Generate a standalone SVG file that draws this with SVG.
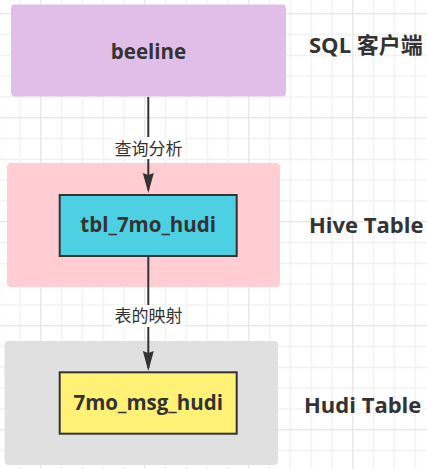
<svg xmlns="http://www.w3.org/2000/svg" width="427" height="469" viewBox="0 0 427 469">
  <defs>
    <pattern id="grid" patternUnits="userSpaceOnUse" x="40.2" y="13.2" width="104" height="104">
      <rect x="0" y="0" width="104" height="104" fill="#ffffff"/>
      <g fill="#efefef">
        <rect x="20.8" y="0" width="1.2" height="104"/>
        <rect x="41.6" y="0" width="1.2" height="104"/>
        <rect x="62.4" y="0" width="1.2" height="104"/>
        <rect x="83.2" y="0" width="1.2" height="104"/>
        <rect x="0" y="20.8" width="104" height="1.2"/>
        <rect x="0" y="41.6" width="104" height="1.2"/>
        <rect x="0" y="62.4" width="104" height="1.2"/>
        <rect x="0" y="83.2" width="104" height="1.2"/>
      </g>
      <g fill="#e3e3e3">
        <rect x="0" y="0" width="1.2" height="104"/>
        <rect x="0" y="0" width="104" height="1.2"/>
      </g>
    </pattern>
    <marker id="arrow" markerUnits="userSpaceOnUse" markerWidth="21" markerHeight="12" refX="17" refY="6" orient="auto" viewBox="0 0 21 12">
      <path d="M0,0.5 L20,6 L0,11.5 L2,6 Z" fill="#333333"/>
    </marker>
    <style>
      .node-text { font-family: "Open Sans", "Noto Sans", "Noto Sans CJK SC", sans-serif; font-weight: bold; font-size: 20.5px; fill: #333333; text-anchor: middle; }
      .side-text { font-family: "Open Sans", "Noto Sans CJK SC", sans-serif; font-weight: bold; font-size: 22px; fill: #333333; }
      .edge-text { font-family: "Noto Sans CJK SC", sans-serif; font-size: 17px; fill: #333333; text-anchor: middle; }
      .box { stroke: #333333; stroke-width: 2; }
      .edge { stroke: #333333; stroke-width: 2; fill: none; }
    </style>
  </defs>

  <rect x="0" y="0" width="427" height="469" fill="url(#grid)"/>

  <g id="hive-group">
    <rect x="7" y="163" width="273" height="124" rx="4" fill="#ffcdd2"/>
    <text class="side-text" x="309" y="233">Hive Table</text>
  </g>

  <g id="hudi-group">
    <rect x="4.5" y="341" width="273.5" height="124" rx="4" fill="#e0e0e0"/>
    <text class="side-text" x="304" y="413">Hudi Table</text>
  </g>

  <g id="beeline">
    <rect x="11" y="4.5" width="275" height="92" rx="4" fill="#e1bee7"/>
    <text class="node-text" x="148.5" y="59">beeline</text>
    <text class="side-text" x="309" y="53">SQL 客户端</text>
  </g>

  <g id="connectors">
    <path class="edge" d="M148.3,97 L148.3,190" marker-end="url(#arrow)"/>
    <path class="edge" d="M148.3,257 L148.3,368" marker-end="url(#arrow)"/>
    <rect x="112" y="137" width="73" height="22" fill="#ffffff"/>
    <text class="edge-text" x="148.5" y="154.5">查询分析</text>
    <rect x="112" y="305" width="73" height="22" fill="#ffffff"/>
    <text class="edge-text" x="148.5" y="322">表的映射</text>
  </g>

  <g id="tbl_7mo_hudi">
    <rect class="box" x="59.7" y="195" width="177" height="61" fill="#4dd0e1"/>
    <text class="node-text" x="148.2" y="232">tbl_7mo_hudi</text>
  </g>

  <g id="7mo_msg_hudi">
    <rect class="box" x="59.7" y="372.3" width="177" height="61.4" fill="#fff176"/>
    <text class="node-text" x="148.2" y="409.5">7mo_msg_hudi</text>
  </g>
</svg>
